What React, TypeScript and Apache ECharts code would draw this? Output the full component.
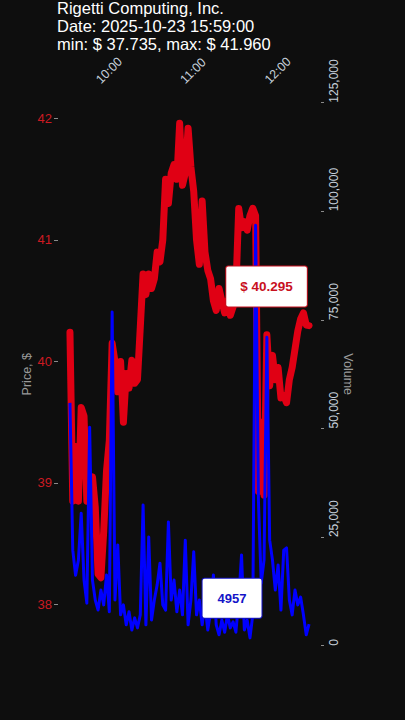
import React, { useEffect, useRef } from 'react';
import * as echarts from 'echarts';

const COMPANY = 'Rigetti Computing, Inc.';
const DATE_STAMP = '2025-10-23 15:59:00';
const DAY_MIN = 37.735;
const DAY_MAX = 41.96;

const times: string[] = [
  '09:40', '09:42', '09:44', '09:46', '09:48', '09:50', '09:52', '09:54', '09:56', '09:58',
  '10:00', '10:02', '10:04', '10:06', '10:08', '10:10', '10:12', '10:14', '10:16', '10:18',
  '10:20', '10:22', '10:24', '10:26', '10:28', '10:30', '10:32', '10:34', '10:36', '10:38',
  '10:40', '10:42', '10:44', '10:46', '10:48', '10:50', '10:52', '10:54', '10:56', '10:58',
  '11:00', '11:02', '11:04', '11:06', '11:08', '11:10', '11:12', '11:14', '11:16', '11:18',
  '11:20', '11:22', '11:24', '11:26', '11:28', '11:30', '11:32', '11:34', '11:36', '11:38',
  '11:40', '11:42', '11:44', '11:46', '11:48', '11:50', '11:52', '11:54', '11:56', '11:58',
  '12:00', '12:02', '12:04', '12:06', '12:08', '12:10', '12:12', '12:14', '12:16', '12:18',
  '12:20', '12:22', '12:24', '12:26', '12:28', '12:30',
];

const prices: number[] = [
  40.24, 38.85, 39.3, 38.85, 39.62, 39.55, 38.85, 38.95, 39.05, 38.8,
  38.25, 38.22, 38.6, 39.1, 39.35, 40.15, 40.0, 39.75, 40.0, 39.5,
  39.9, 39.78, 40.01, 39.82, 39.85, 40.28, 40.72, 40.55, 40.72, 40.6,
  40.68, 40.9, 40.82, 41.0, 41.5, 41.3, 41.55, 41.62, 41.5, 41.96,
  41.45, 41.55, 41.92, 41.6, 41.4, 41.0, 40.8, 41.32, 40.9, 40.75,
  40.68, 40.5, 40.42, 40.6, 40.5, 40.4, 40.5, 40.38, 40.45, 40.6,
  41.26, 41.1, 41.15, 41.08, 41.2, 41.26, 41.2, 38.93, 39.5, 38.9,
  40.22, 39.8, 40.05, 39.85, 39.95, 39.7, 39.72, 39.66, 39.85, 39.95,
  40.1, 40.25, 40.35, 40.4, 40.3, 40.295,
];

const volumes: number[] = [
  55900, 22000, 16200, 19700, 30500, 15100, 9800, 50300, 15100, 10500,
  8200, 12800, 9400, 16300, 7800, 76800, 10500, 23200, 7100, 9400,
  4800, 7800, 3600, 6400, 4100, 7100, 32400, 4800, 25000, 5900,
  10500, 14000, 19000, 9400, 8200, 28500, 10500, 15100, 7800, 12800,
  7100, 24300, 4800, 10500, 21600, 7100, 10500, 4800, 9400, 3600,
  7800, 16300, 4800, 2500, 5900, 3100, 7100, 4100, 5500, 3100,
  10500, 20900, 3600, 5900, 1800, 7100, 96800, 33500, 14400, 19700,
  71000, 24300, 19700, 12800, 18600, 8200, 22000, 22500, 10500, 7100,
  12800, 9400, 11200, 7100, 2500, 4957,
];

const priceTicks: number[] = [38, 39, 40, 41, 42];
const timeTicks: string[] = ['10:00', '11:00', '12:00'];
const volumeMax = 125000;
const volumeStep = 25000;
const priceAxisMin = 37.66;
const priceAxisMax = 42.13;
const timeAxisStart = '09:31:30';
const timeAxisEnd = '12:38:30';

const toTs = (hms: string): number => {
  const [h, m, s] = hms.split(':').map(Number);
  return new Date(2025, 9, 23, h, m, s || 0).getTime();
};
const pad = (n: number) => (n < 10 ? '0' + n : '' + n);

const FONT = "'Liberation Sans', Arial, Helvetica, sans-serif";
const BG = '#0e0e0e';
const RED = '#e00014';
const BLUE = '#0000ff';
const AXIS_TEXT = '#c6d0da';
const NAME_TEXT = '#9a9a9a';
const PRICE_LABEL = '#cc1a22';

export default function App() {
  const ref = useRef<HTMLDivElement>(null);

  useEffect(() => {
    if (!ref.current) return;
    const chart = echarts.init(ref.current, undefined, { renderer: 'svg' });
    const priceData = times.map((t, i) => [toTs(t), prices[i]]);
    const volumeData = times.map((t, i) => [toTs(t), volumes[i]]);
    const last = times.length - 1;
    const lastTs = toTs(times[last]);

    chart.setOption({
      animation: false,
      backgroundColor: BG,
      title: {
        text: `${COMPANY}\nDate: ${DATE_STAMP}\nmin: $ ${DAY_MIN.toFixed(3)}, max: $ ${DAY_MAX.toFixed(3)}`,
        left: 57,
        top: -1,
        padding: 0,
        textStyle: {
          color: '#ffffff',
          fontFamily: FONT,
          fontSize: 16.5,
          fontWeight: 'normal',
          lineHeight: 18,
        },
      },
      grid: {
        left: 58,
        right: 84,
        top: 102.7,
        bottom: 74.3,
        containLabel: false,
        outerBoundsMode: 'none',
      },
      xAxis: {
        type: 'value',
        position: 'top',
        min: toTs(timeAxisStart),
        max: toTs(timeAxisEnd),
        axisLine: { show: false },
        axisTick: { show: false },
        splitLine: { show: false },
        axisLabel: {
          customValues: timeTicks.map(toTs),
          rotate: 45,
          margin: 21,
          color: AXIS_TEXT,
          fontFamily: FONT,
          fontSize: 12.5,
          formatter: (v: number) => {
            const d = new Date(v);
            return pad(d.getHours()) + ':' + pad(d.getMinutes());
          },
        },
      },
      yAxis: [
        {
          type: 'value',
          position: 'left',
          min: priceAxisMin,
          max: priceAxisMax,
          name: 'Price, $',
          nameLocation: 'middle',
          nameGap: 25,
          nameMoveOverlap: false,
          nameTextStyle: { color: NAME_TEXT, fontFamily: FONT, fontSize: 12.5 },
          axisLine: { show: false },
          splitLine: { show: false },
          axisTick: {
            show: true,
            length: 4,
            customValues: priceTicks,
            lineStyle: { color: '#8a8a8a', width: 1 },
          },
          axisLabel: {
            customValues: priceTicks,
            margin: 6,
            color: PRICE_LABEL,
            fontFamily: FONT,
            fontSize: 13,
          },
        },
        {
          type: 'value',
          position: 'right',
          min: 0,
          max: volumeMax,
          interval: volumeStep,
          name: 'Volume',
          nameLocation: 'middle',
          nameRotate: -90,
          nameGap: 20.5,
          nameMoveOverlap: false,
          nameTextStyle: { color: NAME_TEXT, fontFamily: FONT, fontSize: 12.5 },
          axisLine: { show: false },
          splitLine: { show: false },
          axisTick: {
            show: true,
            length: 3,
            lineStyle: { color: '#8a8a8a', width: 1 },
          },
          axisLabel: {
            rotate: 90,
            align: 'left',
            verticalAlign: 'top',
            margin: 7,
            color: AXIS_TEXT,
            fontFamily: FONT,
            fontSize: 12,
          },
        },
      ],
      series: [
        {
          name: 'Price',
          type: 'line',
          yAxisIndex: 0,
          data: priceData,
          showSymbol: false,
          symbol: 'none',
          lineStyle: { color: RED, width: 7, cap: 'round', join: 'round' },
          z: 2,
          markPoint: {
            symbol: 'circle',
            symbolSize: 1,
            itemStyle: { color: 'transparent' },
            z: 10,
            data: [
              {
                coord: [lastTs, prices[last]],
                value: prices[last],
                label: {
                  show: true,
                  position: 'inside',
                  offset: [-42.5, -39],
                  formatter: () => '$ ' + prices[last].toFixed(3),
                  color: '#c8101e',
                  fontFamily: FONT,
                  fontSize: 13.5,
                  fontWeight: 'bold',
                  backgroundColor: '#ffffff',
                  borderColor: '#c8101e',
                  borderWidth: 1,
                  borderRadius: 2,
                  padding: [13, 14],
                },
              },
            ],
          },
        },
        {
          name: 'Volume',
          type: 'line',
          yAxisIndex: 1,
          data: volumeData,
          showSymbol: false,
          symbol: 'none',
          lineStyle: { color: BLUE, width: 3, join: 'round' },
          z: 3,
          markPoint: {
            symbol: 'circle',
            symbolSize: 1,
            itemStyle: { color: 'transparent' },
            z: 10,
            data: [
              {
                coord: [lastTs, volumes[last]],
                value: volumes[last],
                label: {
                  show: true,
                  position: 'inside',
                  offset: [-77, -26],
                  formatter: () => String(volumes[last]),
                  color: '#1414c8',
                  fontFamily: FONT,
                  fontSize: 13,
                  fontWeight: 'bold',
                  backgroundColor: '#ffffff',
                  borderColor: '#1414c8',
                  borderWidth: 1,
                  borderRadius: 2,
                  padding: [13, 15],
                },
              },
            ],
          },
        },
      ],
    });

    return () => chart.dispose();
  }, []);

  return (
    <div
      ref={ref}
      style={{ position: 'fixed', left: 0, top: 0, width: 405, height: 720, background: BG }}
    />
  );
}
